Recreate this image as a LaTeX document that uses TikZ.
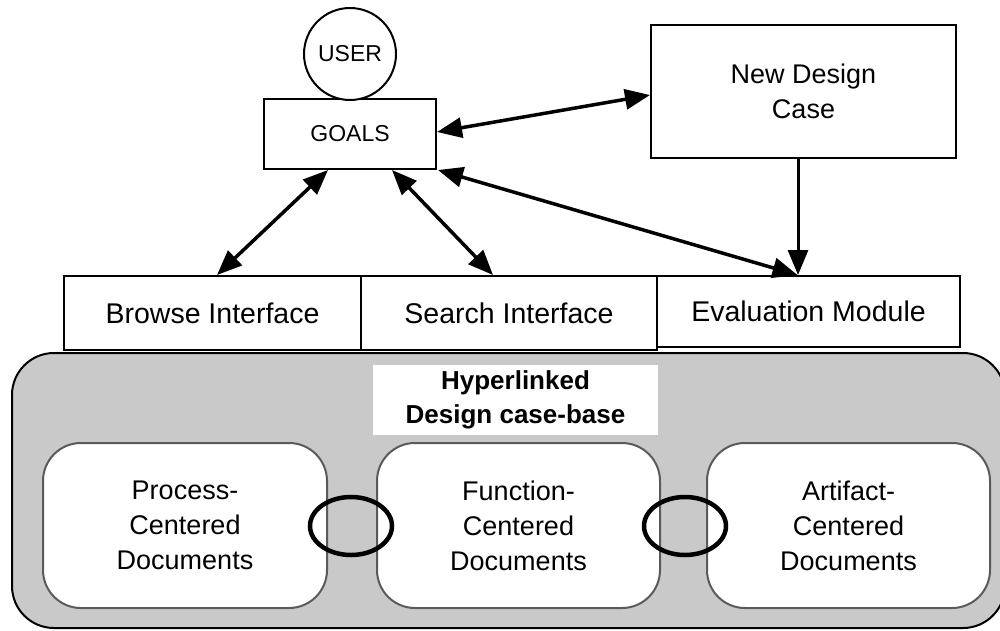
\documentclass[tikz,border=0pt]{standalone}
\usepackage{fontspec}
\setmainfont{Liberation Sans}
\usetikzlibrary{arrows.meta,shapes.geometric}
\definecolor{casegray}{RGB}{201,201,201}
\definecolor{docedge}{RGB}{90,90,90}
\begin{document}
\begin{tikzpicture}[x=1pt,y=-1pt,
  box/.style={draw,line width=2pt,fill=white,inner sep=0pt,align=center,
    font=\fontsize{27}{35}\selectfont},
  ifbox/.style={box,font=\fontsize{28.5}{35}\selectfont},
  smallbox/.style={box,font=\fontsize{23}{28}\selectfont},
  docbox/.style={draw=docedge,line width=2pt,fill=white,rounded corners=38pt,
    inner sep=0pt,align=center,font=\fontsize{27}{35}\selectfont,
    minimum height=165pt},
  link/.style={draw,ellipse,line width=4.5pt,inner sep=0pt,
    minimum width=82pt,minimum height=58pt},
  dbl/.style={line width=3.5pt,{Triangle[length=25pt,width=20pt]}-{Triangle[length=25pt,width=20pt]}},
  one/.style={line width=3pt,-{Triangle[length=25pt,width=20pt]}}]
\useasboundingbox (0,0) rectangle (1000,630);

% top
\node (goals) [smallbox,minimum width=172pt,minimum height=70pt] at (350,134) {GOALS};
\node (user) [draw,circle,line width=2pt,fill=white,inner sep=0pt,minimum size=92pt,
  font=\fontsize{23}{28}\selectfont] at (350,54) {USER};
\node (nd) [box,minimum width=305pt,minimum height=133pt] at (803.5,91.5) {New Design\\Case};

% interfaces
\node (browse) [ifbox,minimum width=297pt,minimum height=74pt] at (212.5,313) {Browse Interface};
\node (search) [ifbox,minimum width=296pt,minimum height=74pt] at (509,313) {Search Interface};
\node (eval) [ifbox,minimum width=303pt,minimum height=71pt] at (808.5,311.5) {Evaluation Module};

% case base
\node (base) [draw,line width=2pt,fill=casegray,rounded corners=42pt,
  minimum width=993pt,minimum height=275pt] at (508.5,490.5) {};
\node (lbl) [fill=white,inner sep=0pt,minimum width=285pt,minimum height=70pt,align=center,
  font=\fontsize{26}{34}\selectfont\bfseries] at (515.5,400) {Hyperlinked\\Design case-base};
\node (proc) [docbox,minimum width=284pt] at (185,525.5) {Process-\\Centered\\Documents};
\node (func) [docbox,minimum width=283pt] at (518.5,525.5) {Function-\\Centered\\Documents};
\node (arti) [docbox,minimum width=283pt] at (848.5,525.5) {Artifact-\\Centered\\Documents};
\node (l1) [link] at (351,526) {};
\node (l2) [link] at (685,526) {};

% connectors
\draw[dbl] ([yshift=2pt]goals.east) -- ([yshift=-3.5pt]nd.west);
\draw[dbl] ([xshift=-22pt]goals.south) -- ([xshift=4.5pt]browse.north);
\draw[dbl] ([xshift=42pt]goals.south) -- ([xshift=-16pt]search.north);
\draw[dbl] ([xshift=1pt]goals.south east) -- ([xshift=-11pt]eval.north);
\draw[one] ([xshift=-5.5pt]nd.south) -- ([xshift=-10.5pt]eval.north);
\end{tikzpicture}
\end{document}
